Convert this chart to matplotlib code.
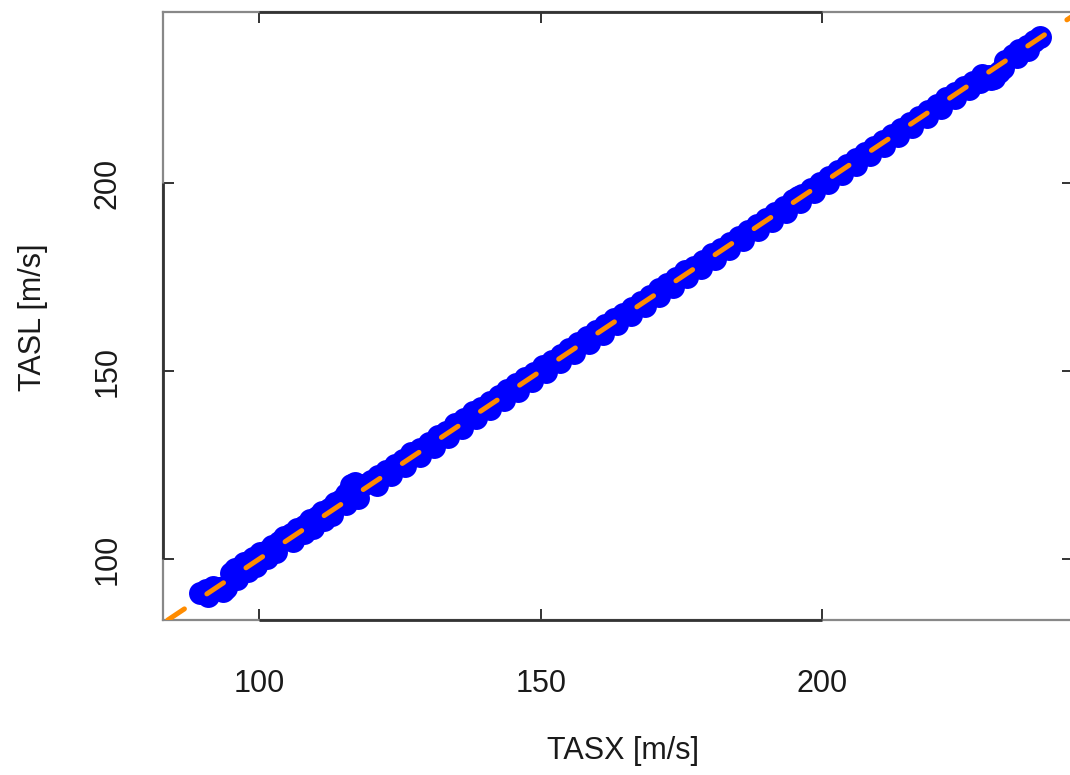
import matplotlib
matplotlib.use("Agg")
import matplotlib.pyplot as plt
import matplotlib.transforms as mtransforms

# Data (true airspeed, TASX vs TASL, m/s)
tasx = [89.5, 90.6, 91.8, 92.9, 93.6, 94.2, 95.0, 95.8, 96.5, 97.3, 98.1, 99.0,
        100.2, 101.1, 102.3, 103.5, 104.4, 105.6, 106.8, 107.9, 109.1, 110.3,
        111.2, 112.4, 113.5, 114.6, 115.4, 116.3, 117.1, 118.4, 119.8, 121.2,
        122.6, 124.1, 125.5, 127.0, 128.6, 130.1, 131.7, 133.2, 134.8, 136.3,
        137.9, 139.4, 141.0, 142.6, 144.1, 145.7, 147.3, 148.9, 150.4, 152.0,
        153.6, 155.1, 156.7, 158.3, 159.9, 161.5, 163.0, 164.6, 166.2, 167.8,
        169.4, 171.0, 172.5, 174.1, 175.7, 177.3, 178.9, 180.5, 182.0, 183.6,
        185.2, 186.8, 188.4, 190.0, 191.6, 193.2, 194.8, 195.6, 196.4, 198.0,
        199.6, 201.2, 202.8, 204.4, 206.0, 207.6, 209.2, 210.8, 212.4, 214.0,
        215.6, 217.2, 218.8, 220.4, 222.0, 223.6, 225.2, 226.8, 228.4, 229.6,
        230.4, 231.3, 232.5, 233.8, 235.0, 236.3, 237.5, 238.6]
tasl = [90.9, 91.9, 92.6, 92.4, 91.6, 92.3, 96.3, 97.4, 97.6, 98.9, 99.3, 100.2,
        101.5, 101.8, 103.6, 104.5, 105.8, 106.6, 108.0, 108.8, 110.4, 111.2,
        112.6, 113.3, 114.9, 115.6, 117.2, 119.8, 120.3, 119.6, 120.9, 122.1,
        123.4, 125.0, 126.3, 128.1, 129.3, 131.0, 132.8, 133.9, 135.8, 137.2,
        139.0, 140.1, 141.9, 143.3, 145.0, 146.5, 148.1, 149.6, 151.3, 152.7,
        154.4, 155.9, 157.4, 159.1, 160.6, 162.2, 163.8, 165.3, 166.9, 168.5,
        170.0, 171.7, 173.1, 174.8, 176.6, 177.8, 179.4, 181.1, 182.6, 184.1,
        185.7, 187.3, 188.9, 190.5, 192.0, 193.6, 195.6, 196.4, 196.7, 198.3,
        199.9, 201.5, 203.2, 204.7, 206.3, 207.9, 209.6, 211.1, 212.8, 214.3,
        215.9, 217.5, 219.3, 220.7, 222.6, 223.9, 225.6, 227.0, 228.7, 228.4,
        228.0, 229.5, 232.6, 234.0, 235.3, 236.4, 237.7, 238.8]
# second strand of points (lower edge of the band)
tasx_b = [91.0, 93.0, 96.0, 98.0, 99.5, 101.5, 103.0, 106.0, 108.0, 109.5,
          111.5, 113.0, 115.5, 117.5, 121.0, 123.5, 126.0, 128.5, 131.0,
          133.5, 136.0, 138.5, 141.0, 143.5, 146.0, 148.5, 151.0, 153.5,
          156.0, 158.5, 161.0, 163.5, 166.0, 168.5, 171.0, 173.5, 176.0,
          178.5, 181.0, 183.5, 186.0, 188.5, 191.0, 193.5, 196.0, 198.5,
          201.0, 203.5, 206.0, 208.5, 211.0, 213.5, 216.0, 218.5, 221.0,
          223.5, 226.0, 228.0, 230.0, 232.0, 234.5, 236.5]
tasl_b = [90.3, 92.2, 94.6, 96.8, 98.2, 100.4, 101.8, 104.8, 106.9, 108.3,
          110.4, 111.8, 114.6, 116.2, 119.6, 122.3, 124.8, 127.4, 129.8,
          132.4, 134.8, 137.4, 139.8, 142.4, 144.8, 147.4, 149.8, 152.4,
          154.8, 157.4, 159.9, 162.4, 164.9, 167.4, 169.9, 172.4, 174.9,
          177.4, 179.9, 182.4, 184.9, 187.4, 189.9, 192.4, 194.9, 197.5,
          199.9, 202.5, 204.9, 207.5, 209.9, 212.5, 214.9, 217.5, 219.9,
          222.5, 224.9, 227.0, 227.6, 230.6, 233.4, 235.5]

xticks = [100, 150, 200]
yticks = [100, 150, 200]

W, H = 1070, 775
fig = plt.figure(figsize=(W / 100, H / 100), dpi=100)
L, R, T, B = 163, 1073, 12, 620
ax = fig.add_axes([L / W, 1 - B / H, (R - L) / W, (B - T) / H])

font = ["Liberation Sans", "DejaVu Sans"]

ax.plot(tasx_b, tasl_b, "o", color="#0000FF", markersize=16.5, markeredgewidth=0, zorder=2)
ax.plot(tasx, tasl, "o", color="#0000FF", markersize=16.5, markeredgewidth=0, zorder=2)

xlim = (82.95, 244.5)
ylim = (83.8, 245.5)
ax.set_xlim(*xlim)
ax.set_ylim(*ylim)

# 1:1 reference line
ax.axline((100, 100), slope=1, color="#FF8C00", linewidth=3.6,
          linestyle=(0, (4, 5.4)), dash_capstyle="round", zorder=3)

# frame
for s in ax.spines.values():
    s.set_color("#888888")
    s.set_linewidth(1.6)

# darker axis segments between first and last tick
tx = mtransforms.blended_transform_factory(ax.transData, ax.transAxes)
ty = mtransforms.blended_transform_factory(ax.transAxes, ax.transData)
for yy in (0, 1):
    ax.plot([xticks[0], xticks[-1]], [yy, yy], transform=tx, color="#333333",
            lw=2.0, clip_on=False, zorder=5, solid_capstyle="butt")
for xx in (0, 1):
    ax.plot([xx, xx], [yticks[0], yticks[-1]], transform=ty, color="#333333",
            lw=2.0, clip_on=False, zorder=5, solid_capstyle="butt")

ax.set_xticks(xticks)
ax.set_yticks(yticks)
ax.tick_params(direction="in", top=True, right=True, length=8, width=1.4,
               color="#333333", labelsize=22, labelcolor="#1a1a1a")
ax.tick_params(axis="x", pad=35)
ax.tick_params(axis="y", pad=29)
for lab in ax.get_yticklabels():
    lab.set_rotation(90)
    lab.set_va("center")
    lab.set_family(font)
for lab in ax.get_xticklabels():
    lab.set_family(font)

ax.set_xlabel("TASX [m/s]", fontsize=22, family=font, color="#1a1a1a")
ax.set_ylabel("TASL [m/s]", fontsize=22, family=font, color="#1a1a1a")
ax.xaxis.set_label_coords((623 - L) / (R - L), (B - 751) / (B - T))
ax.xaxis.label.set_va("center")
ax.yaxis.set_label_coords((33 - L) / (R - L), (B - 317) / (B - T))
ax.yaxis.label.set_va("center")

fig.savefig("out.png", dpi=100)
